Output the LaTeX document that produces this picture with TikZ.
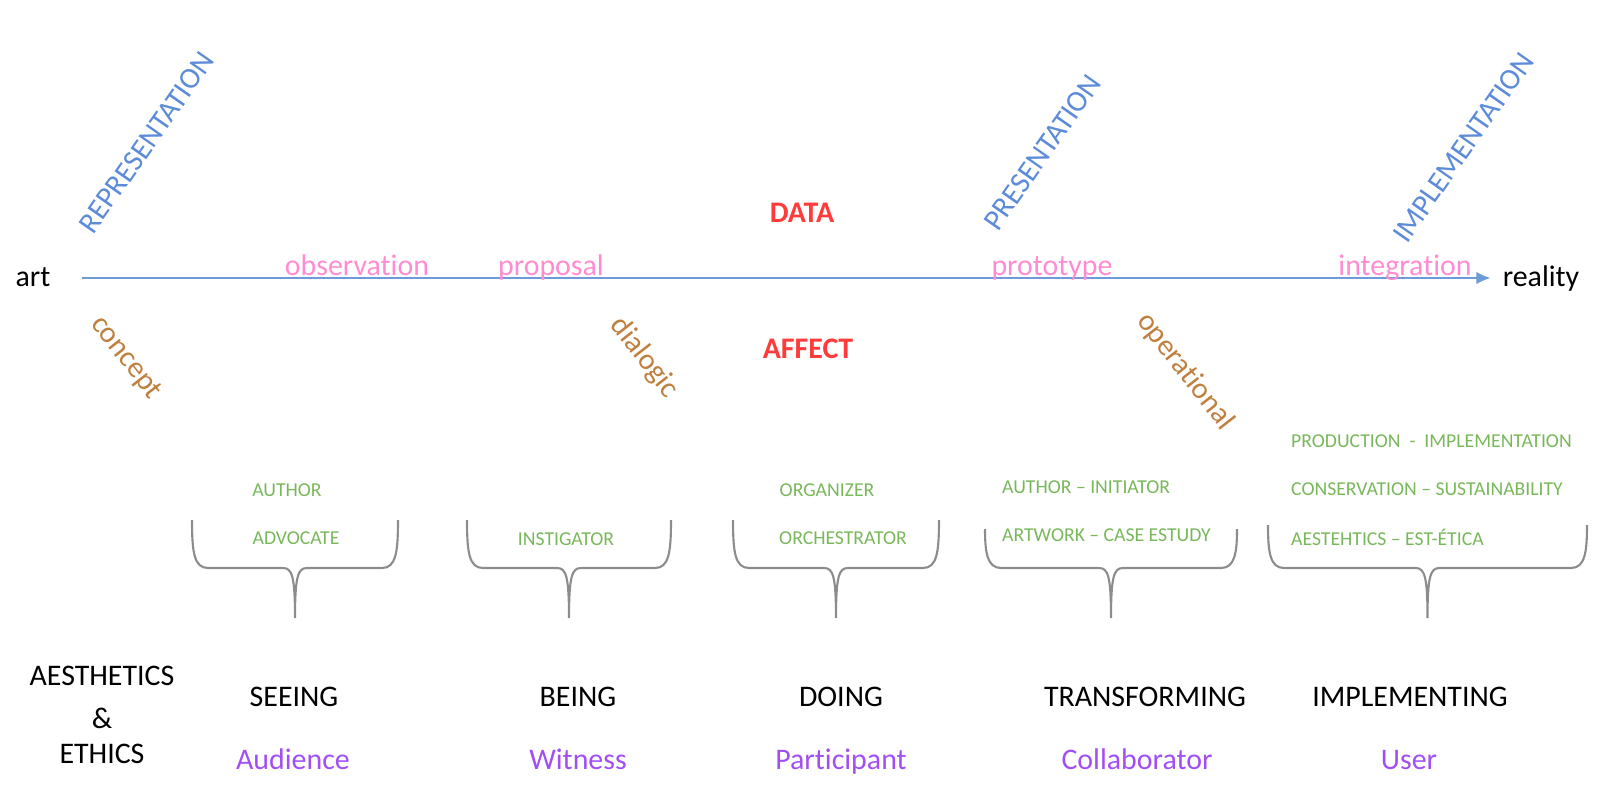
\documentclass[tikz,border=0pt]{standalone}
\usepackage{xcolor}
\usepackage{fontspec}
\setmainfont{Carlito}[Ligatures=NoCommon]
\usepackage{tikz}
\usetikzlibrary{arrows.meta, positioning}

\definecolor{headblue}{HTML}{5B8BD9}
\definecolor{stagepink}{HTML}{FF8CD2}
\definecolor{keyred}{HTML}{FF3B3B}
\definecolor{modebrown}{HTML}{BF7F3F}
\definecolor{rolegreen}{HTML}{78B85A}
\definecolor{whopurple}{HTML}{A34EF5}
\definecolor{axisblue}{HTML}{6E9BD8}
\definecolor{bracegray}{HTML}{8C8C8C}

\begin{document}
\begin{tikzpicture}[x=0.01cm, y=-0.01cm,
    plain/.style={inner sep=1pt, font=\fontsize{8.5}{10}\selectfont},
    txt/.style={plain, text height=0.7em, text depth=0.2em},
    head/.style={txt, text=headblue, rotate=55},
    stage/.style={txt, text=stagepink},
    key/.style={txt, text=keyred, font=\fontsize{8.5}{10}\selectfont\bfseries},
    mode/.style={txt, text=modebrown, rotate=-52},
    role/.style={inner sep=1pt, text=rolegreen, font=\fontsize{5.6}{6.5}\selectfont},
    who/.style={txt, text=whopurple},
    brace/.style={draw=bracegray, line width=0.6pt},
    axis/.style={-{Latex[length=4pt, width=3.5pt]}, draw=axisblue, line width=0.5pt},
]
\useasboundingbox (0,0) rectangle (1600,800);

% axis art -> reality
\node[txt] (art) at (33,278) {art};
\node[txt] (reality) at (1541,278) {reality};
\draw[axis, shorten <=0.27cm, shorten >=0.08cm] (art.east) -- (reality.west |- art.east);

% headings above the axis
\node[head] (repres) at (147,143) {REPRESENTATION};
\node[head] (present) at (1043,153) {PRESENTATION};
\node[head] (implem) at (1464,148) {IMPLEMENTATION};
\node[key] (data) at (802,214) {DATA};

\node[stage] (observ) at (357,267) {observation};
\node[stage] (propos) at (551,267) {proposal};
\node[stage] (proto) at (1052,267) {prototype};
\node[stage] (integr) at (1405,267) {integration};

% below the axis
\node[mode] (concept) at (127,357) {concept};
\node[mode] (dialogic) at (645,357) {dialogic};
\node[mode] (operat) at (1186,371) {operational};
\node[key] (affect) at (808,350) {AFFECT};

% roles
\node[role] (author) at (287,490) {AUTHOR};
\node[role] (advoc) at (296,538) {ADVOCATE};
\node[role] (instig) at (566,539) {INSTIGATOR};
\node[role] (organ) at (827,490) {ORGANIZER};
\node[role] (orch) at (843,538) {ORCHESTRATOR};
\node[role, anchor=west] (initiat) at (998,487) {AUTHOR -- INITIATOR};
\node[role, anchor=west] (artwork) at (998,535) {ARTWORK -- CASE ESTUDY};
\node[role, anchor=west] (produc) at (1287,441) {PRODUCTION \ - \ IMPLEMENTATION};
\node[role, anchor=west] (conserv) at (1287,489) {CONSERVATION -- SUSTAINABILITY};
\node[role, anchor=west] (aesteh) at (1287,537) {AESTEHTICS -- EST-ÉTICA};

% braces
\foreach \xa/\xb/\yt [evaluate=\xa as \xm using (\xa+\xb)/2] in
    {192/398/520, 467/671/520, 733/939/520, 985/1237/529, 1268/1587/525}
  \draw[brace] (\xa,\yt) .. controls (\xa,552) and (\xa+2,568) .. (\xa+16,568)
      -- (\xm-12,568) .. controls (\xm-3,568) and (\xm,576) .. (\xm,618)
    (\xb,\yt) .. controls (\xb,552) and (\xb-2,568) .. (\xb-16,568)
      -- (\xm+12,568) .. controls (\xm+3,568) and (\xm,576) .. (\xm,618);

% bottom rows
\node[plain, align=center] (aesth) at (102,715) {AESTHETICS\\[2pt]\&\\ETHICS};
\node[txt] (seeing) at (294,698) {SEEING};
\node[txt] (being) at (578,698) {BEING};
\node[txt] (doing) at (841,698) {DOING};
\node[txt] (transf) at (1145,698) {TRANSFORMING};
\node[txt] (implg) at (1410,698) {IMPLEMENTING};

\node[who] (audience) at (293,761) {Audience};
\node[who] (witness) at (578,761) {Witness};
\node[who] (partic) at (841,761) {Participant};
\node[who] (collab) at (1137,761) {Collaborator};
\node[who] (user) at (1409,761) {User};

\end{tikzpicture}
\end{document}
